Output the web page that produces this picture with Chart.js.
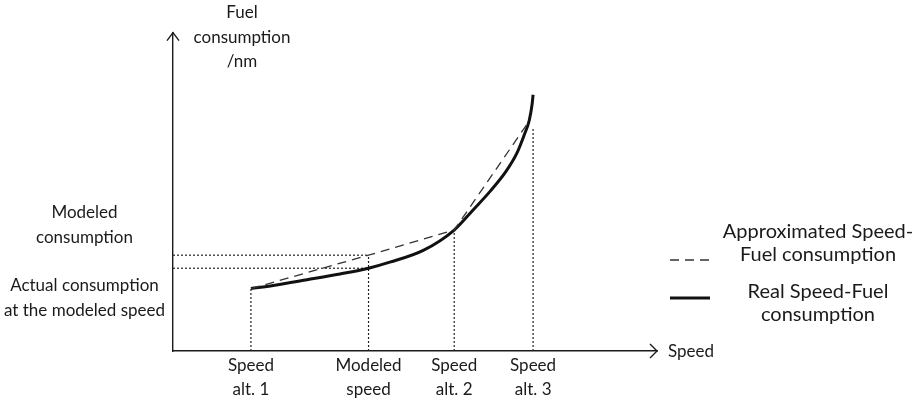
<!DOCTYPE html>
<html>
<head>
<meta charset="utf-8">
<script src="https://cdn.jsdelivr.net/npm/chart.js@4"></script>
<style>
  html, body { margin: 0; padding: 0; background: #fff; }
  #wrap { position: relative; width: 921px; height: 398px; }
</style>
</head>
<body>
<div id="wrap"><canvas id="chart"></canvas></div>
<script>
// tick positions and labels (abstract units, 0..100 on both axes)
const speedTicks = [16.1, 40.4, 58.1, 74.4];
const speedLabels = [['Speed', 'alt. 1'], ['Modeled', 'speed'], ['Speed', 'alt. 2'], ['Speed', 'alt. 3']];
const consTicks = [16.6, 39.6];
const consLabels = [['Actual consumption', 'at the modeled speed'], ['Modeled', 'consumption']];

// real speed-fuel curve
const realX = [16.1, 20.7, 27.7, 34.5, 40.4, 44.8, 51.7, 58.1, 62.0, 65.6, 68.8, 71.1, 72.7, 73.6, 74.2, 74.4];
const realY = [19.6, 20.6, 22.4, 24.2, 26.0, 27.9, 31.6, 38.0, 44.3, 50.3, 56.4, 62.3, 68.4, 72.4, 77.6, 80.5];

// approximated (piecewise linear) curve
const approxX = [16.1, 40.4, 58.1, 73.4];
const approxY = [19.6, 30.1, 38.0, 71.8];

// dotted guide heights at each speed tick
const guideTops = [19.6, 30.1, 38.0, 70.0];
// horizontal guides: modeled and actual consumption at modeled speed
const guideLevels = [30.1, 26.0];

const FONT = 'Lato, "Open Sans", sans-serif';
const ink = '#1a1a1a';

const toPts = (xs, ys) => xs.map((x, i) => ({ x: x, y: ys[i] }));

const guideSets = [];
speedTicks.forEach((x, i) => {
    guideSets.push({ data: [{ x: x, y: 0 }, { x: x, y: guideTops[i] }] });
});
guideLevels.forEach(y => {
    guideSets.push({ data: [{ x: 0, y: y }, { x: speedTicks[1], y: y }] });
});
guideSets.forEach(g => {
    g.label = 'guide';
    g.borderColor = '#222';
    g.borderWidth = 1.2;
    g.borderDash = [2, 2];
    g.pointRadius = 0;
    g.showLine = true;
});

// arrows, axis titles and legend
const extras = {
    id: 'extras',
    afterDraw(chart) {
        const ctx = chart.ctx;
        const a = chart.chartArea;
        ctx.save();
        ctx.strokeStyle = ink;
        ctx.lineWidth = 1.4;
        ctx.beginPath();
        ctx.moveTo(a.left - 6, a.top + 8);
        ctx.lineTo(a.left, a.top);
        ctx.lineTo(a.left + 6, a.top + 8);
        ctx.moveTo(a.right - 7, a.bottom - 7);
        ctx.lineTo(a.right, a.bottom);
        ctx.lineTo(a.right - 7, a.bottom + 7);
        ctx.stroke();

        ctx.fillStyle = ink;
        ctx.font = '17px ' + FONT;
        ctx.textAlign = 'center';
        ctx.textBaseline = 'middle';
        ['Fuel', 'consumption', '/nm'].forEach((t, i) => ctx.fillText(t, 242, 13 + i * 24.5));
        ctx.textAlign = 'left';
        ctx.fillText('Speed', a.right + 11, a.bottom + 1);

        // legend
        const items = [
            { ds: chart.data.datasets[0], lines: ['Approximated Speed-', 'Fuel consumption'], y: 232 },
            { ds: chart.data.datasets[1], lines: ['Real Speed-Fuel', 'consumption'], y: 292 }
        ];
        ctx.font = '20px ' + FONT;
        ctx.textAlign = 'center';
        items.forEach(it => {
            it.lines.forEach((t, i) => ctx.fillText(t, 818, it.y + i * 23));
            ctx.beginPath();
            ctx.setLineDash(it.ds.borderDash || []);
            ctx.lineWidth = it.ds.borderWidth;
            ctx.strokeStyle = it.ds.borderColor;
            const ly = it.y + (it.ds.borderDash ? 28 : 6);
            ctx.moveTo(670, ly);
            ctx.lineTo(710, ly);
            ctx.stroke();
        });
        ctx.restore();
    }
};

new Chart(document.getElementById('chart'), {
    type: 'scatter',
    data: {
        datasets: [
            {
                label: 'Approximated Speed-Fuel consumption',
                data: toPts(approxX, approxY),
                showLine: true,
                borderColor: '#333',
                borderWidth: 1.3,
                borderDash: [9, 6],
                pointRadius: 0
            },
            {
                label: 'Real Speed-Fuel consumption',
                data: toPts(realX, realY),
                showLine: true,
                borderColor: '#111',
                borderWidth: 3,
                cubicInterpolationMode: 'monotone',
                pointRadius: 0
            },
            ...guideSets
        ]
    },
    options: {
        responsive: true,
        maintainAspectRatio: false,
        animation: false,
        layout: { padding: { top: 25, right: 264, left: 0, bottom: 0 } },
        plugins: { legend: { display: false }, tooltip: { enabled: false } },
        scales: {
            x: {
                type: 'linear',
                min: 0,
                max: 100,
                grid: { display: false, drawTicks: false },
                border: { display: true, color: ink, width: 1.4 },
                afterBuildTicks: s => { s.ticks = speedTicks.map(v => ({ value: v })); },
                afterFit: s => { s.height = 47; },
                ticks: {
                    autoSkip: false,
                    maxRotation: 0,
                    padding: 3,
                    color: ink,
                    font: { family: FONT, size: 17, lineHeight: 1.41 },
                    callback: v => speedLabels[speedTicks.indexOf(v)]
                }
            },
            y: {
                type: 'linear',
                min: 0,
                max: 100,
                grid: { display: false, drawTicks: false },
                border: { display: true, color: ink, width: 1.4 },
                afterBuildTicks: s => { s.ticks = consTicks.map(v => ({ value: v })); },
                afterFit: s => { s.width = 173; },
                ticks: {
                    autoSkip: false,
                    crossAlign: 'center',
                    padding: 8,
                    color: ink,
                    font: { family: FONT, size: 17, lineHeight: 1.45 },
                    callback: v => consLabels[consTicks.indexOf(v)]
                }
            }
        }
    },
    plugins: [extras]
});
</script>
</body>
</html>
